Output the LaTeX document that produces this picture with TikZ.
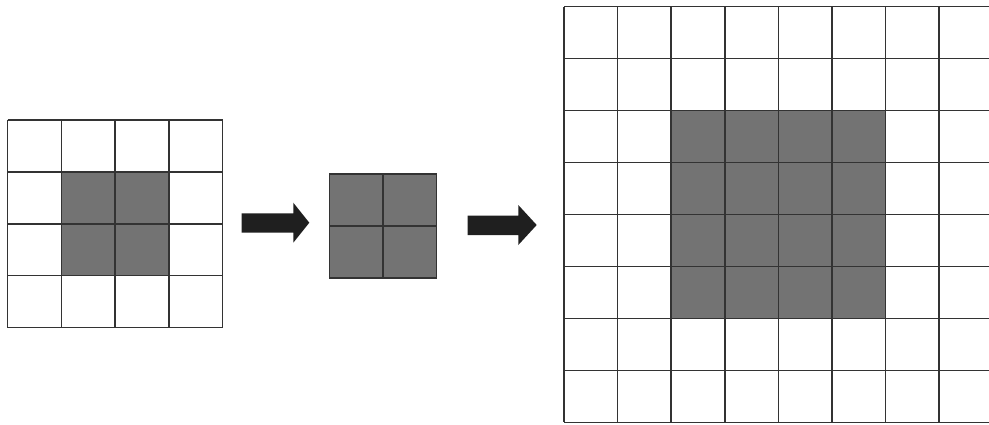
\documentclass[tikz,border=0pt]{standalone}
\begin{document}
\begin{tikzpicture}[x=1pt,y=-1pt,
  gridline/.style={draw=black!80,line width=1.5pt},
  shade/.style={fill=black!55},
  blockarrow/.style={fill=black!88,draw=none}]
\useasboundingbox (0,0) rectangle (989,424);
\clip (0,0) rectangle (989,424);
% left 4x4 grid
\def\lx{7.5}\def\ly{120}\def\ldx{53.8}\def\ldy{51.9}
\fill[shade] (\lx+\ldx,\ly+\ldy) rectangle (\lx+3*\ldx,\ly+3*\ldy);
\foreach \i in {0,...,4}{
  \draw[gridline] (\lx+\i*\ldx,\ly) -- (\lx+\i*\ldx,\ly+4*\ldy);
  \draw[gridline] (\lx,\ly+\i*\ldy) -- (\lx+4*\ldx,\ly+\i*\ldy);
}
% arrow 1
\fill[blockarrow] (241.7,213.3) -- (293.3,213.3) -- (293.3,202.7) -- (309.3,222.7)
  -- (293.3,242.7) -- (293.3,232.7) -- (241.7,232.7) -- cycle;
% middle 2x2
\def\mx{329.3}\def\my{174}\def\mdx{53.7}\def\mdy{52.1}
\fill[shade] (\mx,\my) rectangle (\mx+2*\mdx,\my+2*\mdy);
\foreach \i in {0,...,2}{
  \draw[gridline] (\mx+\i*\mdx,\my) -- (\mx+\i*\mdx,\my+2*\mdy);
  \draw[gridline] (\mx,\my+\i*\mdy) -- (\mx+2*\mdx,\my+\i*\mdy);
}
% arrow 2
\fill[blockarrow] (467.7,215.7) -- (518.3,215.7) -- (518.3,205) -- (536.7,225)
  -- (518.3,245) -- (518.3,235) -- (467.7,235) -- cycle;
% right 8x8 grid
\def\rx{564}\def\ry{6.7}\def\rdx{53.6}\def\rdy{51.95}
\fill[shade] (\rx+2*\rdx,\ry+2*\rdy) rectangle (\rx+6*\rdx,\ry+6*\rdy);
\foreach \i in {0,...,8}{
  \draw[gridline] (\rx+\i*\rdx,\ry) -- (\rx+\i*\rdx,\ry+8*\rdy);
  \draw[gridline] (\rx,\ry+\i*\rdy) -- (\rx+8*\rdx,\ry+\i*\rdy);
}
\end{tikzpicture}
\end{document}
